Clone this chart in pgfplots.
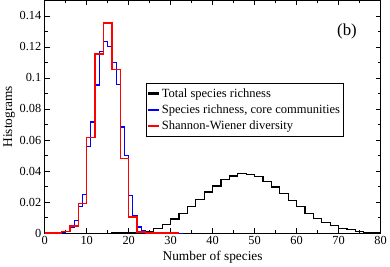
\documentclass[border=0pt]{standalone}
\usepackage{fontspec}
\setmainfont{Liberation Serif}
\usepackage{pgfplots}
\pgfplotsset{compat=1.18}
\begin{document}
\begin{tikzpicture}
\begin{axis}[
  scale only axis,
  width=339bp, height=235bp,
  xmin=0, xmax=80, ymin=0, ymax=0.15,
  xtick={0,10,...,80}, minor xtick={5,15,...,75},
  ytick={0,0.02,...,0.14}, minor ytick={0.01,0.03,...,0.15},
  tick align=inside,
  major tick length=5bp, minor tick length=3bp,
  tick style={black, line width=0.5pt},
  axis line style={line width=0.7pt},
  xticklabel style={font=\fontsize{12.5}{14}\selectfont},
  yticklabel style={font=\fontsize{12.5}{14}\selectfont, /pgf/number format/fixed, /pgf/number format/precision=2},
  /pgf/number format/assume math mode=true,
  scaled y ticks=false,
  xlabel={Number of species},
  ylabel={Histograms},
  label style={font=\fontsize{13.5}{15}\selectfont},
  xlabel style={at={(axis description cs:0.5,-0.103)}, anchor=center},
  ylabel style={at={(axis description cs:-0.106,0.5)}, anchor=center},
  legend style={at={(axis description cs:0.301,0.6455)}, anchor=north west,
    font=\fontsize{12.7}{14}\selectfont,
    inner xsep=1pt, inner ysep=3.5pt, row sep=2pt, cells={anchor=west}},
  legend image code/.code={\draw[#1] (0cm,0cm) -- (0.38cm,0cm);},
  clip=true,
]
\addplot[black, line width=1.2pt, const plot, legend image post style={line width=2.2pt, sharp plot}] coordinates {
(0,0) (14,0) (16,0.0001) (18,0.0001) (20,0.0003) (22,0.0006) (24,0.0013) (26,0.0032) (28,0.0057)
(30,0.0091) (32,0.0125) (34,0.017) (36,0.0217) (38,0.0265) (40,0.0304) (42,0.0344) (44,0.0368)
(46,0.0382) (48,0.038) (50,0.0365) (52,0.0335) (54,0.0297) (56,0.0255) (58,0.0208) (60,0.017)
(62,0.0127) (64,0.0095) (66,0.0068) (68,0.0047) (70,0.0032) (72,0.0021) (74,0.0013) (76,0.0006)
(78,0.0002) (80,0.0002)};
\addlegendentry{Total species richness}
\addplot[blue, line width=1.2pt, const plot, legend image post style={line width=2.2pt, sharp plot}] coordinates {
(0,0) (3,0.0002) (4,0.0005) (5,0.0012) (6,0.004) (7,0.008) (8,0.0174) (9,0.025) (10,0.056)
(11,0.0716) (12,0.0955) (13,0.117) (14,0.1237) (15,0.12) (16,0.1097) (17,0.096) (18,0.0684)
(19,0.0499) (20,0.0244) (21,0.0115) (22,0.004) (23,0.0015) (24,0.0006) (25,0.0003) (26,0) (33,0)};
\addlegendentry{Species richness, core communities}
\addplot[red, line width=1.5pt, const plot, legend image post style={line width=2.2pt, sharp plot}] coordinates {
(0,0) (2,0.0002) (4,0.001) (6,0.0047) (8,0.019) (10,0.0615) (12,0.1155) (14,0.1354) (16,0.1055)
(18,0.048) (20,0.0104) (22,0.0008) (24,0.0002) (26,0) (32,0)};
\addlegendentry{Shannon-Wiener diversity}
\node[font=\fontsize{17}{19}\selectfont, anchor=center] at (axis description cs:0.9,0.868) {(b)};
\path (axis description cs:-0.1298,-0.133) rectangle (axis description cs:1.0206,1.0085);
\end{axis}
\end{tikzpicture}
\end{document}
